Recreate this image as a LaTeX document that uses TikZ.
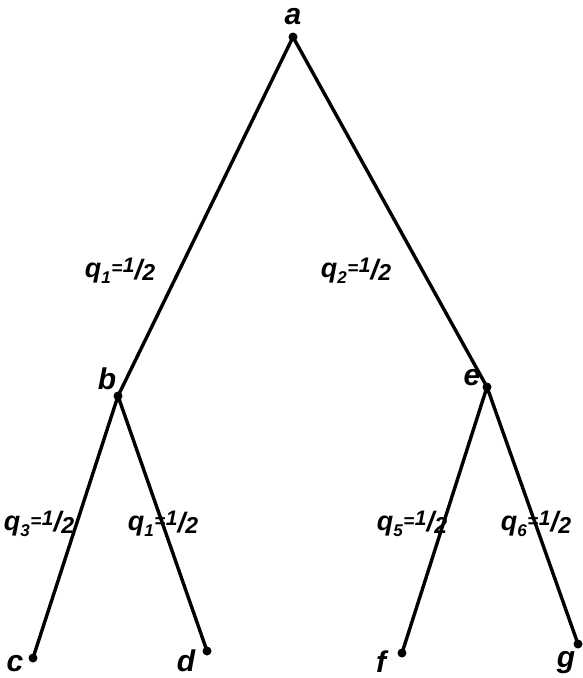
\documentclass[tikz,border=0pt]{standalone}
\usepackage{fontspec}
\setmainfont{Liberation Sans}
\newcommand{\fs}[2]{{\fontsize{#1}{#1}\selectfont #2}}
\newcommand{\qlab}[1]{\fs{27}{q}\raisebox{-1.2ex}{\fs{17}{#1}}\kern0.5pt\raisebox{0.6ex}{\fs{19}{=}}\kern0.5pt\raisebox{0.9ex}{\fs{21}{1}}\raisebox{-0.3ex}{\fs{28}{/}}\raisebox{-0.6ex}{\fs{23}{2}}}
\tikzset{
  edge/.style={line width=3.4pt, line cap=round},
  dot/.style={circle, fill=black, inner sep=0pt, minimum size=9pt},
  vlab/.style={font=\fontsize{30}{30}\selectfont\itshape\bfseries, inner sep=0pt},
  elab/.style={font=\itshape\bfseries, inner sep=0pt}
}
\begin{document}
\begin{tikzpicture}[x=1pt,y=-1pt]
\useasboundingbox (0,0) rectangle (583,678);
\node[dot] (a) at (293,37) {};
\node[dot] (b) at (118,396) {};
\node[dot] (e) at (487,387) {};
\node[dot] (c) at (33,658) {};
\node[dot] (d) at (207,651) {};
\node[dot] (f) at (402,653) {};
\node[dot] (g) at (578,644) {};
\draw[edge] (a.center) -- (b.center);
\draw[edge] (a.center) -- (e.center);
\draw[edge] (b.center) -- (c.center);
\draw[edge] (b.center) -- (d.center);
\draw[edge] (e.center) -- (f.center);
\draw[edge] (e.center) -- (g.center);
\node[vlab] (la) at (293,17) {a};
\node[vlab] (lb) at (107,379) {b};
\node[vlab] (le) at (472,378) {e};
\node[vlab] (lc) at (15,664) {c};
\node[vlab] (ld) at (186,661) {d};
\node[vlab] (lf) at (381,662) {f};
\node[vlab] (lg) at (566,663) {g};
\node[elab] (q1) at (120,271) {\qlab{1}};
\node[elab] (q2) at (356,271) {\qlab{2}};
\node[elab] (q3) at (39,524) {\qlab{3}};
\node[elab] (q4) at (163,524) {\qlab{1}};
\node[elab] (q5) at (412,524) {\qlab{5}};
\node[elab] (q6) at (536,524) {\qlab{6}};
\end{tikzpicture}
\end{document}
